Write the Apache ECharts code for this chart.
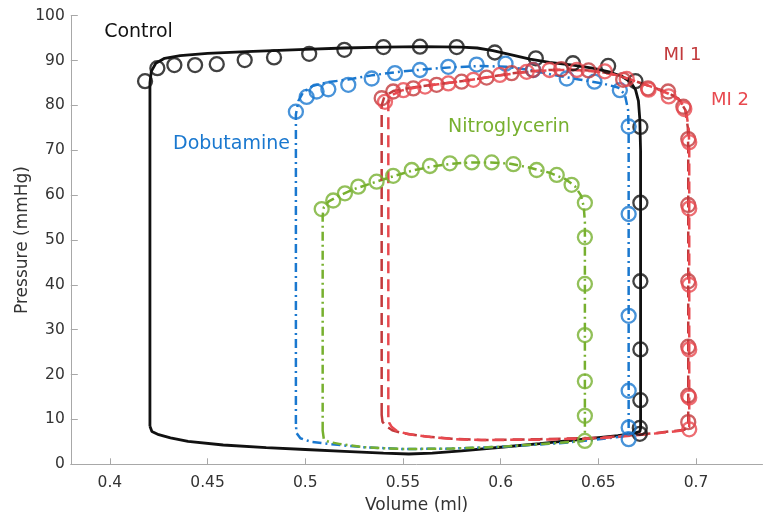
<!DOCTYPE html>
<html><head><meta charset="utf-8">
<script src="https://cdn.jsdelivr.net/npm/echarts@6/dist/echarts.min.js"></script>
<style>html,body{margin:0;padding:0;background:#fff}#c{width:763px;height:521px}</style>
</head><body><div id="c"></div>
<script>
// ---- tick labels ----
const xTicks = [0.4, 0.45, 0.5, 0.55, 0.6, 0.65, 0.7];
const yTicks = [0, 10, 20, 30, 40, 50, 60, 70, 80, 90, 100];

// ---- model curves (volume ml, pressure mmHg) ----
const controlLine = [
  [0.4205,8.5],[0.4205,85],[0.4212,87.6],[0.4235,89.4],[0.428,90.5],[0.436,91.1],[0.45,91.6],[0.47,92.0],
  [0.5,92.5],[0.52,92.8],[0.54,93.0],[0.56,93.1],[0.58,93.0],[0.588,92.8],[0.596,92.2],[0.605,91.3],
  [0.615,90.3],[0.625,89.6],[0.637,89.0],[0.647,88.3],[0.656,87.4],[0.662,86.5],[0.6665,85.2],[0.669,83.5],
  [0.6705,81],[0.6712,77],[0.6716,70],[0.6716,8.0],[0.6712,7.3],[0.668,6.9],[0.66,6.4],[0.64,5.5],
  [0.62,4.6],[0.6,3.8],[0.58,3.0],[0.565,2.5],[0.553,2.3],[0.54,2.5],[0.52,2.9],[0.5,3.3],[0.48,3.7],
  [0.458,4.3],[0.44,5.1],[0.431,5.9],[0.425,6.6],[0.4215,7.3],[0.4205,8.5]
];
const dobutamineLine = [
  [0.4952,9],[0.4952,78],[0.4965,81.0],[0.499,83.0],[0.504,84.4],[0.512,85.2],[0.522,85.8],[0.534,86.7],
  [0.546,87.4],[0.56,88.0],[0.575,88.5],[0.59,88.8],[0.603,88.6],[0.615,87.9],[0.628,86.7],[0.64,85.8],
  [0.652,84.9],[0.66,84.0],[0.6635,82.5],[0.6652,79],[0.6655,74],[0.6655,8],[0.665,6.6],[0.66,6.1],
  [0.647,5.4],[0.63,4.7],[0.6,3.9],[0.575,3.5],[0.55,3.4],[0.53,3.8],[0.515,4.4],[0.503,5.0],
  [0.4975,5.8],[0.4955,7],[0.4952,9]
];
const nitroLine = [
  [0.5089,7.5],[0.5089,55.5],[0.5095,57.3],[0.512,58.6],[0.517,59.8],[0.524,61.2],[0.535,62.8],[0.545,64.2],
  [0.555,65.5],[0.565,66.4],[0.575,67.0],[0.585,67.3],[0.595,67.3],[0.605,67.0],[0.615,66.1],[0.625,65.0],
  [0.633,63.6],[0.638,62.0],[0.641,60],[0.6425,57.5],[0.6431,54],[0.6431,5.6],[0.642,5.2],[0.63,4.8],
  [0.6,3.9],[0.575,3.5],[0.55,3.4],[0.53,3.8],[0.518,4.5],[0.512,5.0],[0.5095,5.6],[0.5089,7.5]
];
const mi1Line = [
  [0.5391,11],[0.5391,80],[0.5405,82],[0.545,83.2],[0.555,84],[0.565,84.6],[0.575,85.1],[0.585,85.7],
  [0.595,86.4],[0.605,87.1],[0.615,87.6],[0.625,87.9],[0.635,88.0],[0.645,87.8],[0.655,87.2],[0.665,86.0],
  [0.675,84.5],[0.685,83.0],[0.691,81.5],[0.6945,79],[0.6958,75],[0.696,70],[0.696,8.5],[0.694,7.7],
  [0.68,7.0],[0.665,6.4],[0.65,5.9],[0.62,5.6],[0.59,5.4],[0.575,5.7],[0.562,6.2],[0.55,6.9],
  [0.5445,7.6],[0.541,8.6],[0.5395,9.5],[0.5391,11]
];
const mi2Line = [
  [0.5425,10.5],[0.5425,80.5],[0.544,82.2],[0.549,83.3],[0.558,84.1],[0.568,84.7],[0.578,85.3],[0.588,85.9],
  [0.598,86.6],[0.608,87.2],[0.618,87.6],[0.628,87.9],[0.638,87.9],[0.648,87.6],[0.658,86.9],[0.667,85.7],
  [0.677,84.2],[0.686,82.6],[0.692,81.0],[0.695,78.5],[0.6963,74.5],[0.6965,70],[0.6965,8.3],[0.6945,7.6],
  [0.68,6.9],[0.665,6.3],[0.65,5.8],[0.62,5.5],[0.59,5.4],[0.576,5.6],[0.564,6.1],[0.553,6.7],
  [0.547,7.4],[0.5443,8.3],[0.543,9.2],[0.5425,10.5]
];

// ---- measured points ----
const controlPts = [
  [0.418,85.4],[0.4243,88.3],[0.433,89.0],[0.4436,89.0],[0.4547,89.2],[0.469,90.1],[0.484,90.7],[0.502,91.5],
  [0.520,92.4],[0.540,93.0],[0.5587,93.1],[0.5775,93.0],[0.597,91.8],[0.618,90.5],[0.637,89.4],[0.655,88.8],
  [0.669,85.4],[0.6715,75.2],[0.6715,58.3],[0.6715,40.8],[0.6715,25.6],[0.6715,14.3],[0.6712,8.1],[0.6712,6.8]
];
const dobutaminePts = [
  [0.4952,78.6],[0.5007,81.9],[0.5058,83.1],[0.5118,83.6],[0.522,84.6],[0.534,86.0],[0.5459,87.2],[0.5587,87.9],
  [0.5732,88.6],[0.5877,89.1],[0.6025,89.3],[0.6167,87.9],[0.6338,86.0],[0.648,85.3],[0.661,83.4],
  [0.6655,75.3],[0.6655,55.8],[0.6655,33.1],[0.6655,16.4],[0.6655,8.2],[0.6655,5.6]
];
const nitroPts = [
  [0.5084,56.9],[0.5143,58.8],[0.5203,60.4],[0.5271,61.9],[0.5365,63.0],[0.545,64.3],[0.5545,65.6],[0.5638,66.5],
  [0.574,67.1],[0.5852,67.3],[0.5954,67.3],[0.6065,66.9],[0.6184,65.6],[0.6287,64.5],[0.6363,62.3],[0.6431,58.3],
  [0.6431,50.6],[0.6431,40.2],[0.6431,28.8],[0.6431,18.5],[0.6431,10.8],[0.6431,5.2]
];
const mi1Pts = [
  [0.5391,81.6],[0.545,83.1],[0.5553,83.8],[0.5672,84.6],[0.58,85.3],[0.5928,86.2],[0.6056,87.2],[0.6165,87.9],
  [0.631,88.1],[0.645,87.8],[0.6627,85.7],[0.6754,83.8],[0.6857,83.1],[0.6935,79.7],
  [0.696,72.5],[0.696,57.8],[0.696,40.8],[0.696,26.2],[0.696,15.3],[0.696,9.4]
];
const mi2Pts = [
  [0.5408,80.8],[0.5502,83.4],[0.5613,84.2],[0.5732,84.9],[0.586,85.7],[0.5996,86.8],[0.6133,87.5],[0.625,87.9],
  [0.639,87.9],[0.6533,87.6],[0.6645,85.9],[0.6757,83.5],[0.686,82.0],[0.694,79.2],
  [0.6965,71.8],[0.6965,57.0],[0.6965,40.0],[0.6965,25.6],[0.6965,14.9],[0.6965,7.8]
];

// ---- series names / labels ----
const names = ['Control','Dobutamine','Nitroglycerin','MI 1','MI 2'];

const C = {black:'#111111', blue:'#1a78cf', green:'#77b02f', red1:'#c23a3c', red2:'#e8494f'};
const FONT = 'DejaVu Sans';

function lineSeries(name, data, color, type, w){
  return {name, type:'line', data, symbol:'none', smooth:false, z:2,
    lineStyle:{color, width:w, type}, animation:false, silent:true};
}
function ptSeries(name, data, color){
  return {name, type:'scatter', data, symbol:'circle', symbolSize:14, z:3,
    itemStyle:{color:'rgba(0,0,0,0)', borderColor:color, borderWidth:2.3}, animation:false, silent:true};
}

const chart = echarts.init(document.getElementById('c'), null, {renderer:'canvas'});
chart.setOption({
  backgroundColor:'#fff',
  animation:false,
  grid:{left:70.8, top:15.7, width:691.7, height:448.6, containLabel:false},
  xAxis:{type:'value', min:0.38, max:0.734,
    name:'Volume (ml)', nameLocation:'middle', nameGap:33,
    nameTextStyle:{fontFamily:FONT, fontSize:17, color:'#333'},
    axisLine:{show:true, lineStyle:{color:'#a8a8a8', width:1}},
    axisTick:{show:true, inside:true, length:6, customValues:xTicks, lineStyle:{color:'#a8a8a8'}},
    axisLabel:{customValues:xTicks, margin:11, fontFamily:FONT, fontSize:15.5, color:'#333'},
    splitLine:{show:false}},
  yAxis:{type:'value', min:0, max:100, interval:10,
    name:'Pressure (mmHg)', nameLocation:'middle', nameGap:40, nameMoveOverlap:false,
    nameTextStyle:{fontFamily:FONT, fontSize:17, color:'#333'},
    axisLine:{show:true, lineStyle:{color:'#a8a8a8', width:1}},
    axisTick:{show:true, inside:true, length:7, lineStyle:{color:'#a8a8a8'}},
    axisLabel:{margin:6, fontFamily:FONT, fontSize:15.5, color:'#333',
      formatter: v => yTicks.includes(v) ? String(v) : ''},
    splitLine:{show:false}},
  series:[
    lineSeries(names[0], controlLine, C.black, 'solid', 2.8),
    lineSeries(names[1], dobutamineLine, C.blue, [9,4,2,4], 2.5),
    lineSeries(names[2], nitroLine, C.green, [9,4,2,4], 2.5),
    lineSeries(names[3], mi1Line, C.red1, [12,6], 2.5),
    lineSeries(names[4], mi2Line, C.red2, [12,6], 2.5),
    ptSeries(names[0], controlPts, C.black),
    ptSeries(names[1], dobutaminePts, C.blue),
    ptSeries(names[2], nitroPts, C.green),
    ptSeries(names[3], mi1Pts, C.red1),
    ptSeries(names[4], mi2Pts, C.red2)
  ],
  graphic:[
    {type:'text', x:138.5, y:32.5, style:{text:names[0], fill:C.black, font:'19px '+FONT, textAlign:'center', textVerticalAlign:'middle'}},
    {type:'text', x:231.5, y:144, style:{text:names[1], fill:C.blue, font:'19px '+FONT, textAlign:'center', textVerticalAlign:'middle'}},
    {type:'text', x:509, y:127, style:{text:names[2], fill:C.green, font:'19px '+FONT, textAlign:'center', textVerticalAlign:'middle'}},
    {type:'text', x:682.5, y:55, style:{text:names[3], fill:C.red1, font:'18px '+FONT, textAlign:'center', textVerticalAlign:'middle'}},
    {type:'text', x:730, y:100, style:{text:names[4], fill:C.red2, font:'18px '+FONT, textAlign:'center', textVerticalAlign:'middle'}}
  ]
});
</script>
</body></html>
